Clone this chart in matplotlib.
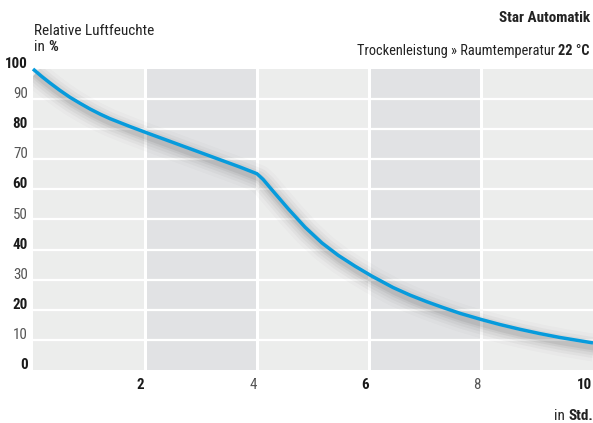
import matplotlib
matplotlib.use("Agg")
import matplotlib.pyplot as plt
import matplotlib.font_manager as fm
import matplotlib.transforms as mtransforms

# ---- data ----
hours = [0, 0.15, 0.3, 0.48, 0.66, 0.84, 1.02, 1.2, 1.375, 1.73, 2.06, 2.5, 3.1, 3.7,
         4.0, 4.11, 4.26, 4.56, 4.86, 5.16, 5.45, 5.75, 6.05, 6.43, 6.73, 7.03,
         7.33, 7.63, 8.0, 8.34, 8.7, 9.05, 9.41, 9.77, 10]
humidity = [100, 97.6, 95.4, 92.9, 90.6, 88.6, 86.7, 85.0, 83.5, 80.9, 78.6, 75.6,
            71.5, 67.4, 65.2, 63.3, 60.0, 53.5, 47.4, 42.2, 38.1, 34.5, 31.2, 27.4,
            24.9, 22.7, 20.7, 18.8, 16.8, 15.1, 13.5, 12.1, 10.8, 9.7, 9.0]
y_ticks = [0, 10, 20, 30, 40, 50, 60, 70, 80, 90, 100]
x_ticks = [2, 4, 6, 8, 10]
band_edges = [0, 2, 4, 6, 8, 10]

title = "Star Automatik"
subtitle_regular = "Trockenleistung » Raumtemperatur "
subtitle_bold = "22 °C"
ylabel_line1 = "Relative Luftfeuchte"
ylabel_regular = "in "
ylabel_bold = "%"
xlabel_regular = "in "
xlabel_bold = "Std."

# ---- font ----
names = {f.name for f in fm.fontManager.ttflist}
family = "DejaVu Sans"
for cand in ["Roboto Condensed", "Liberation Sans Narrow", "DejaVu Sans Condensed",
             "Open Sans Condensed", "Roboto"]:
    if cand in names:
        family = cand
        break
plt.rcParams["font.family"] = [family, "DejaVu Sans"]

W, H = 593, 423
fig = plt.figure(figsize=(W / 100, H / 100), dpi=100)
ax = fig.add_axes([33 / W, (H - 370) / H, 560 / W, 301 / H])
ax.set_xlim(0, 10)
ax.set_ylim(0, 100)

light = "#ecedec"
dark = "#e1e2e4"
for i in range(len(band_edges) - 1):
    ax.axvspan(band_edges[i], band_edges[i + 1], color=light if i % 2 == 0 else dark,
               lw=0, zorder=0)
for v in y_ticks[1:-1]:
    ax.axhline(v, color="white", lw=1.6, zorder=1)
for v in band_edges[1:-1]:
    ax.axvline(v, color="white", lw=2.2, zorder=1)

# soft shadow below the curve
for lw, a in [(20, 0.02), (15, 0.035), (11, 0.045), (7, 0.055), (4, 0.07)]:
    tr = mtransforms.offset_copy(ax.transData, fig=fig, x=2, y=-5, units="dots")
    ax.plot(hours, humidity, color="#202020", lw=lw, alpha=a, transform=tr,
            solid_capstyle="butt", solid_joinstyle="round", zorder=2)
ax.plot(hours, humidity, color="#079bdc", lw=2.5, solid_joinstyle="round",
        solid_capstyle="butt", zorder=3, clip_on=False)

for s in ax.spines.values():
    s.set_visible(False)
ax.set_xticks([])
ax.set_yticks([])

fs = 10.8
for v in y_ticks:
    bold = (v % 20 == 0)
    ax.text(-0.09, v + 0.3, str(v), ha="right", va="baseline", fontsize=fs,
            fontweight="bold" if bold else "normal",
            color="#1a1a1a" if bold else "#555555")
for v in x_ticks:
    bold = (v % 4 == 2)
    ax.text(v - 0.01, -2.8, str(v), ha="right", va="top", fontsize=fs,
            fontweight="bold" if bold else "normal",
            color="#1a1a1a" if bold else "#555555")

renderer = fig.canvas.get_renderer()


def two_part_right(xr, y, reg, bld, size, color="#222222"):
    tb = fig.text(xr / W, 1 - y / H, bld, ha="right", va="baseline", fontsize=size,
                  fontweight="bold", color=color)
    bb = tb.get_window_extent(renderer)
    fig.text(bb.x0 / W, 1 - y / H, reg, ha="right", va="baseline", fontsize=size,
             color=color)


def two_part_left(xl, y, reg, bld, size, color="#222222"):
    tr_ = fig.text(xl / W, 1 - y / H, reg, ha="left", va="baseline", fontsize=size,
                   color=color)
    bb = tr_.get_window_extent(renderer)
    fig.text(bb.x1 / W, 1 - y / H, bld, ha="left", va="baseline", fontsize=size,
             fontweight="bold", color=color)


fig.text(590 / W, 1 - 22 / H, title, ha="right", va="baseline", fontsize=11,
         fontweight="bold", color="#222222")
two_part_right(590, 55, subtitle_regular, subtitle_bold, 10.4)
fig.text(34 / W, 1 - 35 / H, ylabel_line1, ha="left", va="baseline", fontsize=11,
         color="#222222")
two_part_left(34, 51, ylabel_regular, ylabel_bold, 11)
two_part_right(593, 420, xlabel_regular, xlabel_bold, 11)

fig.savefig("out.png", dpi=100)
